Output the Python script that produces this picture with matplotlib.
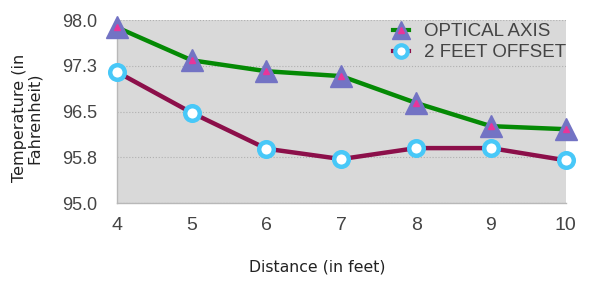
import matplotlib
matplotlib.use("Agg")
import matplotlib.pyplot as plt
from matplotlib.lines import Line2D

distance = [4, 5, 6, 7, 8, 9, 10]
optical_axis = [97.88, 97.34, 97.16, 97.08, 96.64, 96.26, 96.21]
feet_offset = [97.15, 96.48, 95.89, 95.72, 95.90, 95.90, 95.70]
y_ticks = [95.0, 95.75, 96.5, 97.25, 98.0]
y_tick_labels = ["95.0", "95.8", "96.5", "97.3", "98.0"]
series_names = ["OPTICAL AXIS", "2 FEET OFFSET"]

plt.rcParams['font.family'] = ['Liberation Sans', 'DejaVu Sans']

W, H = 593, 290
fig = plt.figure(figsize=(W / 100, H / 100), dpi=100)
ax = fig.add_axes([0.197, 0.300, 0.757, 0.631])
ax.set_facecolor('#d9d9d9')

green = '#058a05'
maroon = '#8c0f4a'
tri_col = '#7373c4'
pink = '#e8359a'
cyan = '#48c8f8'

ax.plot(distance, optical_axis, color=green, lw=3.2, zorder=3, clip_on=False)
ax.plot(distance, optical_axis, ls='none', marker='^', ms=15.5, mfc=tri_col, mec=tri_col, zorder=4, clip_on=False)
ax.plot(distance, optical_axis, ls='none', marker='^', ms=4.5, mfc=pink, mec=pink, zorder=5, clip_on=False)
ax.plot(distance, feet_offset, color=maroon, lw=3.2, zorder=3, clip_on=False)
ax.plot(distance, feet_offset, ls='none', marker='o', ms=10.5, mfc='white', mec=cyan, mew=3.2, zorder=4, clip_on=False)

ax.set_xlim(4, 10)
ax.set_ylim(95, 98)
ax.set_yticks(y_ticks)
ax.set_yticklabels(y_tick_labels)
ax.set_xticks(distance)
ax.tick_params(axis='y', length=0, pad=14, labelsize=13, labelcolor='#444444')
ax.tick_params(axis='x', length=0, pad=10, labelsize=14, labelcolor='#444444')
ax.grid(axis='y', color='#b0b0b0', ls=':', lw=0.8)
ax.set_axisbelow(True)
for s in ['top', 'right']:
    ax.spines[s].set_visible(False)
for s in ['left', 'bottom']:
    ax.spines[s].set_color('#b8b8b8')
    ax.spines[s].set_linewidth(1)

fig.text(27 / W, 1 - 118 / H, "Temperature (in\nFahrenheit)", rotation=90, ha='center', va='center',
         fontsize=11.5, color='#222222', family='DejaVu Sans', linespacing=1.05,
         multialignment='center')
fig.text(317 / W, 1 - 267 / H, "Distance (in feet)", ha='center', va='center',
         fontsize=11.3, color='#222222', family='DejaVu Sans')

h1 = (Line2D([], [], color=green, lw=3),
      Line2D([], [], ls='none', marker='^', ms=13, mfc=tri_col, mec=tri_col),
      Line2D([], [], ls='none', marker='^', ms=4, mfc=pink, mec=pink))
h2 = (Line2D([], [], color=maroon, lw=3),
      Line2D([], [], ls='none', marker='o', ms=9, mfc='white', mec=cyan, mew=3))
leg = ax.legend([h1, h2], series_names, loc='upper right', bbox_to_anchor=(1.027, 1.045),
                frameon=False, fontsize=13.5, handlelength=0.9, handletextpad=0.8,
                labelspacing=0.22, borderaxespad=0.2)
for t in leg.get_texts():
    t.set_color('#444444')

fig.savefig('out.png', dpi=100)
